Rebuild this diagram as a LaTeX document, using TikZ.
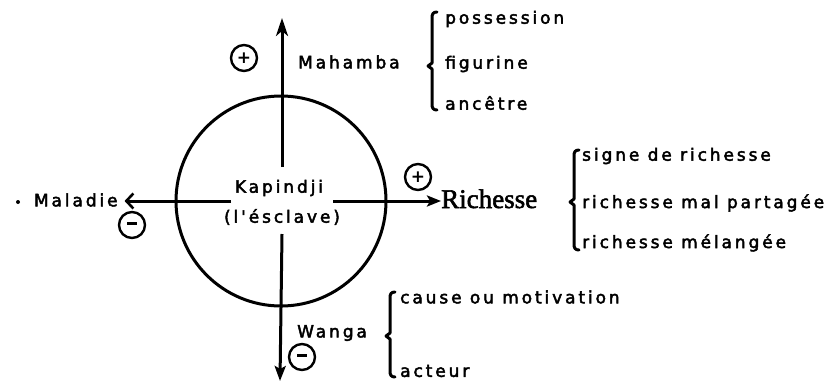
\documentclass[tikz,border=0pt]{standalone}
\usepackage{fontspec}
\setmainfont{DejaVu Sans}
\newfontfamily\lab{DejaVu Sans}[LetterSpace=17, FakeBold=2.6]
\newfontfamily\rich{Liberation Serif}[FakeBold=2]
\usetikzlibrary{arrows.meta}
\tikzset{
  lbl/.style={font=\lab\fontsize{17}{19}\selectfont, inner sep=0pt, anchor=west},
  sign/.style={circle, draw, line width=2.4pt, minimum size=26pt, inner sep=0pt,
               font=\bfseries\fontsize{17}{17}\selectfont},
  axis/.style={line width=3pt},
  brk/.style={line width=3pt, line cap=round, line join=round},
}
\newcommand{\mybracket}[4]{% x, top, mid, bottom
  \draw[brk] (#1+5,#2) .. controls (#1+1,#2) and (#1,#2+2) .. (#1,#2+6)
     -- (#1,#3-3) -- (#1-4,#3) -- (#1,#3+3) -- (#1,#4-6)
     .. controls (#1,#4-2) and (#1+1,#4) .. (#1+5,#4);}
\begin{document}
\begin{tikzpicture}[x=1pt,y=-1pt]
\useasboundingbox (0,0) rectangle (835,381);
% central circle
\node[circle, draw, line width=3pt, minimum size=210pt, inner sep=0pt] (c) at (281,201) {};
\node[lbl, anchor=center] (kap) at (279,188) {Kapindji};
\node[lbl, anchor=center] (esc) at (282,217) {(l'ésclave)};
% axis end points
\coordinate (vt1) at (282,167);
\coordinate (vt2) at (282,18);
\coordinate (vb1) at (282,234);
\coordinate (vb2) at (280,381);
\coordinate (hl1) at (231,201);
\coordinate (hr1) at (333,201);
% labels
\node[lbl] (mah) at (298,62) {Mahamba};
\node[lbl, outer sep=7pt] (mal) at (27,200) {Maladie};
\node[lbl, font=\rich\fontsize{27}{27}\selectfont, anchor=base west] (ric) at (441,208) {Richesse};
\node[lbl] (wan) at (297,333) {Wanga};
\fill (18,202) circle (2pt);
% arrows
\draw[axis, -{Stealth[length=18pt,width=12pt,inset=5pt]}] (vt1) -- (vt2);
\draw[axis, -{Stealth[length=15pt,width=11pt,inset=3pt]}] (vb1) -- (vb2);
\draw[axis, -{Straight Barb[length=7pt,width=15pt,line width=2.6pt]}] (hl1) -- (mal.east |- hl1);
\draw[axis, -{Stealth[length=14pt,width=11pt,inset=3pt]}] (hr1) -- (ric.west |- hr1);
% signs
\node[sign] (s1) at (244,58) {+};
\node[sign] (s2) at (132,225) {\rule[0.3ex]{10pt}{2.8pt}};
\node[sign] (s3) at (418,177) {+};
\node[sign] (s4) at (302,357) {\rule[0.3ex]{10pt}{2.8pt}};
% top bracket
\mybracket{432}{12}{66}{110}
\node[lbl] (t1) at (445,19) {possession};
\node[lbl] (t2) at (445,64) {figurine};
\node[lbl] (t3) at (445,103) {ancêtre};
% right bracket
\mybracket{574}{150}{202}{250}
\node[lbl] (r1) at (582,156) {signe de richesse};
\node[lbl] (r2) at (582,203) {richesse mal partagée};
\node[lbl] (r3) at (582,243) {richesse mélangée};
% bottom bracket
\mybracket{390}{292}{336}{377}
\node[lbl] (b1) at (400,297) {cause ou motivation};
\node[lbl] (b2) at (400,371) {acteur};
\end{tikzpicture}
\end{document}
